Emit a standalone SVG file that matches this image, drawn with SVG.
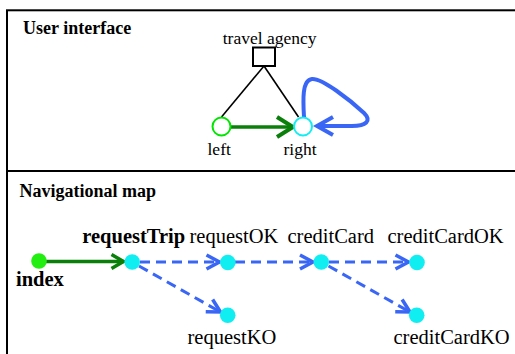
<svg xmlns="http://www.w3.org/2000/svg" width="515" height="354" viewBox="0 0 515 354">
  <style>
    .frame { fill: none; stroke: #000; stroke-width: 2; }
    .title { font-family: "Liberation Serif", "Times New Roman", serif; font-weight: bold; font-size: 18px; fill: #000; }
    .lbl-s { font-family: "Liberation Serif", "Times New Roman", serif; font-size: 17.5px; fill: #000; }
    .lbl { font-family: "Liberation Serif", "Times New Roman", serif; font-size: 20.5px; fill: #000; }
    .lbl-b { font-family: "Liberation Serif", "Times New Roman", serif; font-size: 20.5px; font-weight: bold; fill: #000; }
    .edge { fill: none; stroke: #000; stroke-width: 1.6; }
    .go { fill: none; stroke: #0a800a; stroke-width: 3.5; }
    .nav { fill: none; stroke: #3a66f6; stroke-width: 3; stroke-dasharray: 10 6; }
    .loop { fill: none; stroke: #3a66f6; stroke-width: 4; }
    .page { fill: #10eef2; }
  </style>
  <defs>
    <marker id="headGreenLg" markerUnits="userSpaceOnUse" markerWidth="24" markerHeight="26" refX="20" refY="12" orient="auto" overflow="visible">
      <path d="M4,2 L20,12 L4,22" fill="none" stroke="#0a800a" stroke-width="4" stroke-linejoin="miter"/>
    </marker>
    <marker id="headBlueLg" markerUnits="userSpaceOnUse" markerWidth="24" markerHeight="26" refX="20" refY="12" orient="auto" overflow="visible">
      <path d="M4,3 L20,12 L4,21" fill="none" stroke="#3a66f6" stroke-width="4" stroke-linejoin="miter"/>
    </marker>
    <marker id="headGreen" markerUnits="userSpaceOnUse" markerWidth="20" markerHeight="20" refX="16" refY="10" orient="auto" overflow="visible">
      <path d="M4,3 L16,10 L4,17" fill="none" stroke="#0a800a" stroke-width="3.5" stroke-linejoin="miter"/>
    </marker>
    <marker id="headBlue" markerUnits="userSpaceOnUse" markerWidth="20" markerHeight="20" refX="16" refY="10" orient="auto" overflow="visible">
      <path d="M3,3 L16,10 L3,17" fill="none" stroke="#3a66f6" stroke-width="3.5" stroke-linejoin="miter"/>
    </marker>
  </defs>

  <rect width="515" height="354" fill="#fff"/>

  <!-- panel frame -->
  <g id="frame">
    <rect class="frame" x="7" y="10.3" width="520" height="360"/>
    <line class="frame" x1="7" y1="171" x2="520" y2="171"/>
    <text class="title" x="23" y="34">User interface</text>
    <text class="title" x="19.5" y="197">Navigational map</text>
  </g>

  <!-- connectors -->
  <g id="connectors">
    <line class="edge" x1="264" y1="66" x2="221.5" y2="117"/>
    <line class="edge" x1="264" y1="66" x2="298.5" y2="117"/>
    <line class="go" x1="231" y1="127" x2="293" y2="127" marker-end="url(#headGreenLg)"/>
    <path class="loop" d="M304,117 C303,100 302,80 312,79 C322,78 350,100 364,113 C372,121 366,126 352,126 L317,126" marker-end="url(#headBlueLg)"/>

    <line class="go" x1="46" y1="261.5" x2="123.5" y2="261.5" marker-end="url(#headGreen)"/>
    <line class="nav" x1="140" y1="262" x2="219.5" y2="262" marker-end="url(#headBlue)"/>
    <line class="nav" x1="235" y1="262" x2="313" y2="262" marker-end="url(#headBlue)"/>
    <line class="nav" x1="329" y1="262" x2="408.5" y2="262" marker-end="url(#headBlue)"/>
    <line class="nav" x1="139" y1="266" x2="220.5" y2="312" marker-end="url(#headBlue)"/>
    <line class="nav" x1="328.5" y1="266" x2="410" y2="312" marker-end="url(#headBlue)"/>
  </g>

  <!-- user interface nodes -->
  <g id="travelAgency">
    <rect x="253" y="47.5" width="22" height="18.5" fill="#fff" stroke="#000" stroke-width="2"/>
    <text class="lbl-s" x="222.7" y="43.5">travel agency</text>
  </g>
  <g id="left">
    <circle cx="221.5" cy="126.5" r="9" fill="#fff" stroke="#00e600" stroke-width="2"/>
    <text class="lbl-s" x="207.5" y="154.5">left</text>
  </g>
  <g id="right">
    <circle cx="303" cy="126.5" r="9" fill="#fff" stroke="#10eef2" stroke-width="2"/>
    <text class="lbl-s" x="283.5" y="154.5">right</text>
  </g>

  <!-- navigational map nodes -->
  <g id="index">
    <circle cx="39" cy="261" r="7.8" fill="#22ee11"/>
    <text class="lbl-b" x="16" y="286">index</text>
  </g>
  <g id="requestTrip">
    <circle class="page" cx="132.2" cy="262" r="7.8"/>
    <text class="lbl-b" x="82.3" y="242.5">requestTrip</text>
  </g>
  <g id="requestOK">
    <circle class="page" cx="227.8" cy="262.5" r="7.8"/>
    <text class="lbl" x="189.5" y="243">requestOK</text>
  </g>
  <g id="creditCard">
    <circle class="page" cx="321.3" cy="262" r="7.8"/>
    <text class="lbl" x="287.5" y="242.5">creditCard</text>
  </g>
  <g id="creditCardOK">
    <circle class="page" cx="417" cy="262.5" r="7.8"/>
    <text class="lbl" x="387.5" y="242.5">creditCardOK</text>
  </g>
  <g id="requestKO">
    <circle class="page" cx="227.7" cy="315.3" r="7.8"/>
    <text class="lbl" x="187.5" y="344">requestKO</text>
  </g>
  <g id="creditCardKO">
    <circle class="page" cx="416.7" cy="315.3" r="7.8"/>
    <text class="lbl" x="393.5" y="344">creditCardKO</text>
  </g>
</svg>
